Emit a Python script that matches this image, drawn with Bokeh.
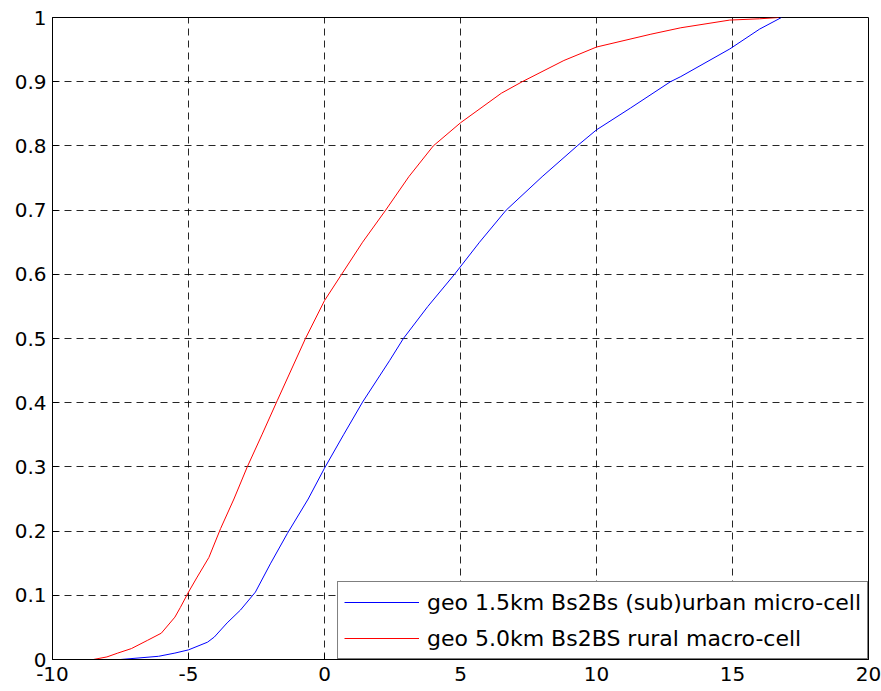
from bokeh.plotting import figure
from bokeh.models import Range1d, FixedTicker, CustomJSTickFormatter, Legend, LegendItem
from bokeh.embed import file_html
from bokeh.resources import INLINE

# ---- data ----
micro_x = [-7.5, -6.1, -5.5, -5.0, -4.3, -4.05, -3.58, -3.09, -2.54, -1.99, -1.37, -0.6, 0.0,
           0.7, 1.4, 2.4, 2.9, 3.8, 4.78, 5.7, 6.68, 8.0, 9.29, 10.0, 11.25, 12.72,
           13.1, 14.9, 16.0, 16.8]
micro_y = [0.0, 0.005, 0.010, 0.015, 0.027, 0.035, 0.057, 0.077, 0.105, 0.149, 0.196, 0.25, 0.298,
           0.35, 0.401, 0.466, 0.5, 0.55, 0.6, 0.65, 0.7, 0.752, 0.8, 0.825, 0.859, 0.9,
           0.908, 0.951, 0.982, 1.0]

macro_x = [-8.5, -8.0, -7.6, -7.1, -6.5, -6.0, -5.5, -5.3, -5.0, -4.7, -4.25, -3.82, -3.33,
           -2.84, -2.29, -1.74, -0.7, 0.0, 0.63, 1.4, 2.25, 3.1, 4.0, 5.0, 6.5, 7.27, 8.8,
           10.0, 12.0, 13.1, 14.9, 16.0, 16.7]
macro_y = [0.0, 0.004, 0.010, 0.017, 0.030, 0.041, 0.066, 0.081, 0.105, 0.127, 0.159, 0.204, 0.250,
           0.300, 0.351, 0.403, 0.5, 0.559, 0.6, 0.65, 0.7, 0.752, 0.8, 0.836, 0.882, 0.9, 0.933,
           0.954, 0.974, 0.984, 0.996, 0.998, 1.0]

x_ticks = [-10, -5, 0, 5, 10, 15, 20]
y_ticks = [0.0, 0.1, 0.2, 0.3, 0.4, 0.5, 0.6, 0.7, 0.8, 0.9, 1.0]

labels = ["geo 1.5km Bs2Bs (sub)urban micro-cell", "geo 5.0km Bs2BS rural macro-cell"]
colors = ["#0000ff", "#ff0000"]

FONT = "DejaVu Sans"
FS = "20px"

p = figure(width=881, height=691, output_backend="svg", toolbar_location=None,
           x_range=Range1d(-10, 20), y_range=Range1d(0, 1),
           min_border_left=52, min_border_right=13, min_border_top=17, min_border_bottom=32)

p.background_fill_color = "white"
p.border_fill_color = "white"
p.outline_line_color = "black"
p.outline_line_width = 1

for ax in (p.xaxis[0], p.yaxis[0]):
    ax.major_tick_out = 0
    ax.major_tick_in = 6
    ax.minor_tick_out = 0
    ax.minor_tick_in = 0
    ax.axis_line_color = "black"
    ax.major_tick_line_color = "black"
    ax.major_label_text_font = FONT
    ax.major_label_text_font_size = FS
    ax.major_label_text_color = "black"

p.xaxis[0].ticker = FixedTicker(ticks=x_ticks)
p.yaxis[0].ticker = FixedTicker(ticks=y_ticks)
p.xaxis[0].major_label_standoff = 7
p.yaxis[0].major_label_standoff = 6
p.yaxis[0].formatter = CustomJSTickFormatter(code="var s = tick.toFixed(1); return s.replace(/\\.0$/, '');")
p.xaxis[0].formatter = CustomJSTickFormatter(code="return Math.round(tick).toString();")

for g in (p.xgrid[0], p.ygrid[0]):
    g.grid_line_color = "black"
    g.grid_line_dash = "7 5"
    g.grid_line_width = 1
    g.grid_line_alpha = 0.85

r1 = p.line(micro_x, micro_y, line_color=colors[0], line_width=1)
r2 = p.line(macro_x, macro_y, line_color=colors[1], line_width=1)

legend = Legend(items=[LegendItem(label=labels[0], renderers=[r1]),
                       LegendItem(label=labels[1], renderers=[r2])],
                location="bottom_right")
legend.margin = 0
legend.padding = 6
legend.spacing = 8
legend.glyph_width = 75
legend.glyph_height = 28
legend.label_height = 28
legend.label_standoff = 8
legend.label_text_font = FONT
legend.label_text_font_size = "22px"
legend.label_text_color = "black"
legend.border_line_color = "black"
legend.border_line_width = 1
legend.background_fill_color = "white"
legend.background_fill_alpha = 1.0
p.add_layout(legend)

open("out.html", "w").write(file_html(p, INLINE))
